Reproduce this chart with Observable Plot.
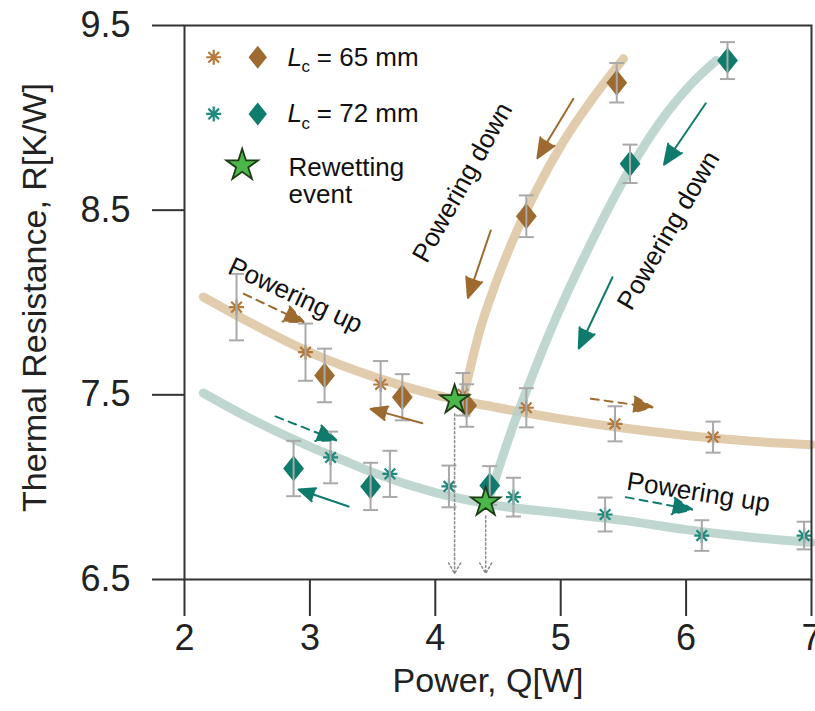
<!DOCTYPE html>
<html><head><meta charset="utf-8">
<script src="https://cdn.jsdelivr.net/npm/d3@7"></script>
<script src="https://cdn.jsdelivr.net/npm/@observablehq/plot@0.6"></script>
<style>body{margin:0;background:#fff}svg{display:block}</style>
</head><body><div id="chart"></div>
<script>
// ---------- data ----------
const xTicks = [2, 3, 4, 5, 6, 7];
const yTicks = [6.5, 7.5, 8.5, 9.5];

// Lc = 65 mm, powering up (asterisks)
const q65Up = [2.415, 2.965, 3.564, 4.22, 4.726, 5.433, 6.215];
const r65Up = [7.975, 7.731, 7.556, 7.503, 7.430, 7.343, 7.271];
const e65Up = [0.180, 0.155, 0.127, 0.115, 0.106, 0.095, 0.084];
// Lc = 65 mm, powering down (diamonds)
const q65Down = [3.117, 3.737, 4.25, 4.726, 5.447];
const r65Down = [7.605, 7.487, 7.442, 8.467, 9.190];
const e65Down = [0.145, 0.125, 0.115, 0.113, 0.107];
// Lc = 72 mm, powering up (asterisks)
const q72Up = [3.165, 3.638, 4.109, 4.623, 5.354, 6.125, 6.941];
const r72Up = [7.161, 7.072, 7.004, 6.946, 6.852, 6.738, 6.738];
const e72Up = [0.140, 0.125, 0.113, 0.105, 0.092, 0.083, 0.075];
// Lc = 72 mm, powering down (diamonds)
const q72Down = [2.870, 3.484, 4.434, 5.553, 6.330];
const r72Down = [7.101, 7.004, 7.009, 8.751, 9.310];
const e72Down = [0.150, 0.128, 0.105, 0.104, 0.100];
// Rewetting events
const qWet = [4.154, 4.402];
const rWet = [7.473, 6.919];

// trend curves
const c65UpQ = [2.15, 2.5, 3.0, 3.5, 4.0, 4.5, 5.0, 5.5, 6.0, 6.5, 7.0];
const c65UpR = [8.03, 7.90, 7.73, 7.60, 7.50, 7.43, 7.37, 7.32, 7.28, 7.25, 7.23];
const c65DnQ = [4.209, 4.27, 4.36, 4.48, 4.62, 4.80, 5.02, 5.25, 5.50];
const c65DnR = [7.44, 7.62, 7.86, 8.10, 8.34, 8.60, 8.87, 9.10, 9.32];
const c72UpQ = [2.15, 2.5, 3.0, 3.25, 3.5, 4.0, 4.5, 5.0, 5.5, 6.0, 6.5, 7.0];
const c72UpR = [7.51, 7.38, 7.22, 7.15, 7.08, 6.97, 6.90, 6.86, 6.82, 6.77, 6.73, 6.70];
const c72DnQ = [4.42, 4.50, 4.62, 4.76, 4.92, 5.24, 5.55, 5.85, 6.05, 6.24];
const c72DnR = [6.92, 7.09, 7.33, 7.58, 7.85, 8.32, 8.72, 9.03, 9.19, 9.31];

// direction arrows
const arrQ1 = [2.473, 5.240, 3.897, 5.101, 4.442, 6.157, 5.413, 2.726, 3.309, 5.519];
const arrR1 = [8.047, 7.479, 7.346, 9.103, 8.390, 9.079, 8.137, 7.383, 6.895, 6.946];
const arrQ2 = [2.952, 5.732, 3.484, 4.814, 4.260, 5.824, 5.144, 3.213, 2.910, 6.051];
const arrR2 = [7.893, 7.433, 7.424, 8.781, 8.025, 8.747, 7.751, 7.253, 6.987, 6.878];
const arrSeries = ["65", "65", "65", "65", "65", "72", "72", "72", "72", "72"];
const arrDashed = [true, true, false, false, false, false, false, true, false, true];

// annotations
const noteText = ["Powering up", "Powering down", "Powering down", "Powering up"];
const noteQ = [2.885, 4.217, 5.860, 6.099];
const noteR = [8.038, 8.650, 8.390, 6.971];
const noteAngle = [25, -61, -60, 9];

// legend
const legLabels = ["= 65 mm", "= 72 mm"];
const legSeries = ["65", "72"];
const legR = [9.328, 9.021];
const legSubR = [9.276, 8.970];

// ---------- styles ----------
const col = {
  "65": {dia: "#9d6b2f", ast: "#b37a3c", curve: "#dcc3a0", arrow: "#9d6b2f"},
  "72": {dia: "#0f7b6c", ast: "#1d8a7c", curve: "#b5cfc8", arrow: "#0f7b6c"}
};
const rows = (qs, rs, es) => qs.map((q, i) => ({q, r: rs[i], e: es ? es[i] : 0}));
const pts65Up = rows(q65Up, r65Up, e65Up);
const pts65Dn = rows(q65Down, r65Down, e65Down);
const pts72Up = rows(q72Up, r72Up, e72Up);
const pts72Dn = rows(q72Down, r72Down, e72Down);
const allBars = [...pts65Dn, ...pts72Dn, ...pts65Up, ...pts72Up];
const wet = rows(qWet, rWet);
const arrows = arrQ1.map((q, i) => ({q1: q, r1: arrR1[i], q2: arrQ2[i], r2: arrR2[i], s: arrSeries[i], d: arrDashed[i]}));
const notes = noteText.map((t, i) => ({t, q: noteQ[i], r: noteR[i], a: noteAngle[i]}));
const legend = legLabels.map((t, i) => ({t, s: legSeries[i], r: legR[i], rs: legSubR[i]}));

const asteriskSym = {draw(ctx, size) {
  const r = Math.sqrt(size / Math.PI);
  for (let k = 0; k < 4; k++) {
    const a = k * Math.PI / 4;
    ctx.moveTo(-r * Math.cos(a), -r * Math.sin(a));
    ctx.lineTo(r * Math.cos(a), r * Math.sin(a));
  }
}};
const diamondSym = {draw(ctx, size) {
  const h = Math.sqrt(size / Math.PI), w = h * 0.8;
  ctx.moveTo(0, -h); ctx.lineTo(w, 0); ctx.lineTo(0, h); ctx.lineTo(-w, 0); ctx.closePath();
}};
const capSym = {draw(ctx, size) {
  const w = Math.sqrt(size / Math.PI);
  ctx.moveTo(-w, 0); ctx.lineTo(w, 0);
}};

const font = "'Liberation Sans', Arial, Helvetica, sans-serif";
const barColor = "#a9a9a9";

const line = (qs, rs, s) => Plot.line(qs.map((q, i) => ({q, r: rs[i]})), {
  x: "q", y: "r", curve: "monotone-x", stroke: col[s].curve, strokeWidth: 9, strokeOpacity: 0.85
});
const arrowOpts = {x1: "q1", y1: "r1", x2: "q2", y2: "r2",
  stroke: d => col[d.s].arrow, fill: d => col[d.s].arrow,
  strokeWidth: 2, headLength: 16, headAngle: 46};

const chart = Plot.plot({
  width: 815, height: 711,
  marginLeft: 184, marginRight: 4, marginTop: 25, marginBottom: 132,
  x: {domain: [2, 7]},
  y: {domain: [6.5, 9.5]},
  style: {fontFamily: font, background: "#fff", color: "#222"},
  marks: [
    line(c65UpQ, c65UpR, "65"),
    line(c65DnQ, c65DnR, "65"),
    line(c72UpQ, c72UpR, "72"),
    line(c72DnQ, c72DnR, "72"),
    // diamonds
    Plot.dot(pts65Dn, {x: "q", y: "r", symbol: diamondSym, r: 13, fill: col["65"].dia, stroke: "none"}),
    Plot.dot(pts72Dn, {x: "q", y: "r", symbol: diamondSym, r: 13, fill: col["72"].dia, stroke: "none"}),
    // asterisks
    Plot.dot(pts65Up, {x: "q", y: "r", symbol: asteriskSym, r: 7.5, fill: "none", stroke: col["65"].ast, strokeWidth: 2.2}),
    Plot.dot(pts72Up, {x: "q", y: "r", symbol: asteriskSym, r: 7.5, fill: "none", stroke: col["72"].ast, strokeWidth: 2.2}),
    // error bars
    Plot.ruleX(allBars, {x: "q", y1: d => d.r - d.e, y2: d => d.r + d.e, stroke: barColor, strokeWidth: 2}),
    Plot.dot(allBars, {x: "q", y: d => d.r - d.e, symbol: capSym, r: 7.5, fill: "none", stroke: barColor, strokeWidth: 2}),
    Plot.dot(allBars, {x: "q", y: d => d.r + d.e, symbol: capSym, r: 7.5, fill: "none", stroke: barColor, strokeWidth: 2}),
    // direction arrows
    Plot.arrow(arrows.filter(d => d.d), {...arrowOpts, strokeDasharray: "8,6"}),
    Plot.arrow(arrows.filter(d => !d.d), arrowOpts),
    // dotted drop lines from rewetting events
    Plot.arrow(wet, {x1: "q", y1: "r", x2: "q", y2: () => 6.533, insetStart: 14,
      stroke: "#8a8a8a", strokeWidth: 1.5, strokeDasharray: "2,2.5", headLength: 12, headAngle: 60}),
    // stars
    Plot.dot(wet, {x: "q", y: "r", symbol: "star", r: 9.2, fill: "#4bb74a", stroke: "#1e3d16", strokeWidth: 1.8}),
    // annotations
    Plot.text(notes, {x: "q", y: "r", text: "t", rotate: d => d.a, fontSize: 26, fill: "#111"}),
    // legend
    Plot.dot(legend, {x: () => 2.233, y: "r", symbol: asteriskSym, r: 7.5, fill: "none", stroke: d => col[d.s].ast, strokeWidth: 2.2}),
    Plot.dot(legend, {x: () => 2.584, y: "r", symbol: diamondSym, r: 11.5, fill: d => col[d.s].dia, stroke: "none"}),
    Plot.text(legend, {x: () => 2.822, y: "r", text: () => "L", fontStyle: "italic", fontSize: 26, textAnchor: "start", fill: "#111"}),
    Plot.text(legend, {x: () => 2.934, y: "rs", text: () => "c", fontSize: 17, textAnchor: "start", fill: "#111"}),
    Plot.text(legend, {x: () => 3.055, y: "r", text: "t", fontSize: 26, textAnchor: "start", fill: "#111"}),
    Plot.dot([{q: 2.46, r: 8.742}], {x: "q", y: "r", symbol: "star", r: 10, fill: "#4bb74a", stroke: "#1e3d16", strokeWidth: 1.8}),
    Plot.text([{t: "Rewetting", r: 8.728}, {t: "event", r: 8.585}], {x: () => 2.83, y: "r", text: "t", fontSize: 26, textAnchor: "start", fill: "#111"}),
    // axes + frame
    Plot.axisY({ticks: yTicks, tickFormat: d => d.toFixed(1), tickSize: 32, tickPadding: 22, fontSize: 36, label: null, strokeWidth: 2, stroke: "#333", fill: "#222"}),
    Plot.axisX({ticks: xTicks, tickFormat: d => String(d), tickSize: 37, tickPadding: 8, fontSize: 36, label: null, strokeWidth: 2, stroke: "#333", fill: "#222"}),
    Plot.frame({stroke: "#333", strokeWidth: 2}),
    Plot.text(["Power, Q[W]"], {frameAnchor: "bottom", textAnchor: "middle", dx: -10, dy: 112, fontSize: 34, fill: "#222"}),
    Plot.text(["Thermal Resistance, R[K/W]"], {frameAnchor: "left", textAnchor: "middle", rotate: -90, dx: -149, dy: -5, fontSize: 34, fill: "#222"})
  ]
});
document.getElementById("chart").append(chart);
</script>
</body></html>
